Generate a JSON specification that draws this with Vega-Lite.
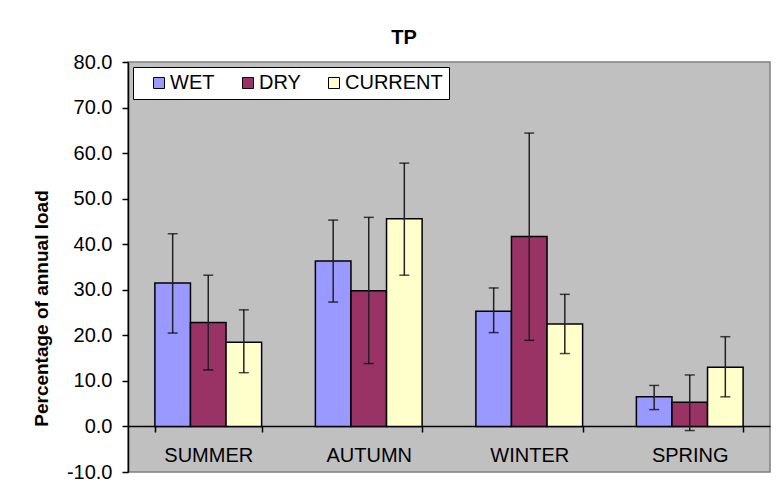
{
  "$schema": "https://vega.github.io/schema/vega-lite/v6.json",
  "width": 642,
  "height": 410,
  "autosize": "none",
  "padding": {"left": 128, "top": 62, "right": 12, "bottom": 29},
  "background": "white",
  "title": {"text": "TP", "font": "Liberation Sans", "fontSize": 20, "fontWeight": "bold", "color": "black", "anchor": "middle", "dx": -45, "baseline": "alphabetic", "offset": 18, "dy": 30},
  "config": {
    "view": {"fill": "#C0C0C0", "stroke": "#808080", "strokeWidth": 1.5},
    "font": "Liberation Sans"
  },
  "data": {
    "values": [
      {"season": "SUMMER", "series": "WET", "value": 31.5, "lo": 20.5, "hi": 42.3},
      {"season": "SUMMER", "series": "DRY", "value": 22.8, "lo": 12.4, "hi": 33.2},
      {"season": "SUMMER", "series": "CURRENT", "value": 18.5, "lo": 11.8, "hi": 25.6},
      {"season": "AUTUMN", "series": "WET", "value": 36.3, "lo": 27.3, "hi": 45.3},
      {"season": "AUTUMN", "series": "DRY", "value": 29.8, "lo": 13.8, "hi": 45.9},
      {"season": "AUTUMN", "series": "CURRENT", "value": 45.6, "lo": 33.2, "hi": 57.8},
      {"season": "WINTER", "series": "WET", "value": 25.3, "lo": 20.6, "hi": 30.4},
      {"season": "WINTER", "series": "DRY", "value": 41.7, "lo": 18.9, "hi": 64.4},
      {"season": "WINTER", "series": "CURRENT", "value": 22.5, "lo": 16.0, "hi": 29.0},
      {"season": "SPRING", "series": "WET", "value": 6.5, "lo": 3.7, "hi": 9.0},
      {"season": "SPRING", "series": "DRY", "value": 5.3, "lo": -0.9, "hi": 11.3},
      {"season": "SPRING", "series": "CURRENT", "value": 13.0, "lo": 6.5, "hi": 19.7}
    ]
  },
  "encoding": {
    "x": {
      "field": "season", "type": "nominal",
      "sort": ["SUMMER", "AUTUMN", "WINTER", "SPRING"],
      "scale": {"paddingInner": 0.335, "paddingOuter": 0.1675},
      "axis": {
        "orient": "bottom", "offset": -46, "title": null, "labelAngle": 0,
        "domainColor": "black", "domainWidth": 1.5,
        "tickBand": "extent", "tickSize": 6, "tickColor": "black", "tickWidth": 1.5,
        "labelFont": "Liberation Sans", "labelFontSize": 20, "labelColor": "black", "labelPadding": 13,
        "grid": false
      }
    },
    "xOffset": {
      "field": "series", "type": "nominal",
      "sort": ["WET", "DRY", "CURRENT"],
      "scale": {"paddingInner": 0, "paddingOuter": 0}
    }
  },
  "layer": [
    {
      "mark": {"type": "bar", "stroke": "black", "strokeWidth": 1.5},
      "encoding": {
        "y": {
          "field": "value", "type": "quantitative",
          "scale": {"domain": [-10, 80], "nice": false, "zero": false},
          "axis": {
            "values": [-10, 0, 10, 20, 30, 40, 50, 60, 70, 80], "format": ".1f",
            "labelExpr": "replace(datum.label, '\u2212', '-')",
            "grid": false, "domainColor": "black", "domainWidth": 1.5,
            "tickSize": 6, "tickColor": "black", "tickWidth": 1.5,
            "labelFont": "Liberation Sans", "labelFontSize": 20, "labelColor": "black", "labelPadding": 10,
            "title": "Percentage of annual load",
            "titleFont": "Liberation Sans", "titleFontSize": 19, "titleFontWeight": "bold", "titleColor": "black",
            "titleAngle": 270, "titleX": -81, "titleY": 246, "titleBaseline": "alphabetic", "titleAlign": "center"
          }
        },
        "color": {
          "field": "series", "type": "nominal",
          "scale": {"domain": ["WET", "DRY", "CURRENT"], "range": ["#9999FF", "#993366", "#FFFFCC"]},
          "legend": {
            "title": null, "orient": "top-left", "offset": 5, "direction": "horizontal", "columns": 3,
            "fillColor": "white", "strokeColor": "black", "padding": 6,
            "symbolType": "square", "symbolSize": 121, "symbolStrokeColor": "black", "symbolStrokeWidth": 1,
            "symbolOffset": 10,
            "labelFont": "Liberation Sans", "labelFontSize": 20, "labelColor": "black", "labelOffset": 1,
            "columnPadding": 13
          }
        }
      }
    },
    {
      "mark": {"type": "rule", "color": "#222222", "strokeWidth": 1.5},
      "encoding": {
        "y": {"field": "lo", "type": "quantitative"},
        "y2": {"field": "hi"}
      }
    },
    {
      "mark": {"type": "tick", "color": "black", "size": 10, "thickness": 1.5},
      "encoding": {"y": {"field": "lo", "type": "quantitative"}}
    },
    {
      "mark": {"type": "tick", "color": "black", "size": 10, "thickness": 1.5},
      "encoding": {"y": {"field": "hi", "type": "quantitative"}}
    }
  ]
}
